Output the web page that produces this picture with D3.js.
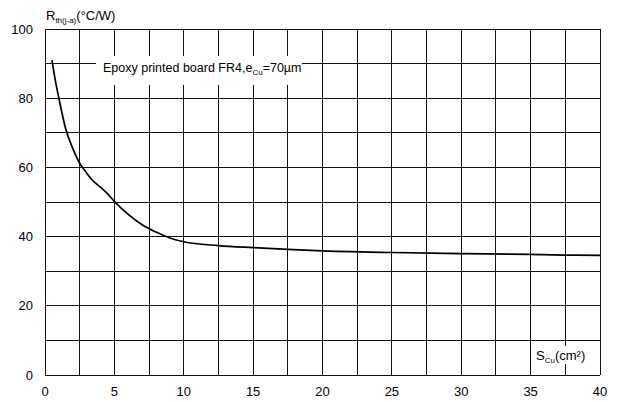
<!DOCTYPE html>
<html>
<head>
<meta charset="utf-8">
<script src="https://cdn.jsdelivr.net/npm/d3@7"></script>
<style>
  body { margin: 0; background: #fff; }
  text { font-family: "Liberation Sans", Arial, sans-serif; fill: #000; }
</style>
</head>
<body>
<div id="chart"></div>
<script>
// copper area (cm²) vs thermal resistance (°C/W)
const areaCu = [0.5, 0.75, 1, 1.5, 2, 2.5, 3, 3.3, 3.6, 4, 4.5, 5, 6, 7, 8, 9, 10, 12.5, 15, 17.5, 20, 25, 30, 35, 37.5, 40];
const rthJA  = [91, 85, 80, 71, 65.5, 61.2, 58.4, 56.8, 55.6, 54.3, 52.4, 50.2, 46.4, 43.4, 41.3, 39.6, 38.5, 37.4, 36.8, 36.3, 35.9, 35.4, 35.1, 34.85, 34.65, 34.6];

const xTicks = [0, 5, 10, 15, 20, 25, 30, 35, 40];
const yTicks = [0, 20, 40, 60, 80, 100];
const xGrid = d3.range(0, 40.01, 2.5);
const yGrid = d3.range(0, 100.01, 10);

const width = 618, height = 402;
const margin = {left: 45, right: 18, top: 29, bottom: 27};

const svg = d3.select("#chart").append("svg")
  .attr("width", width)
  .attr("height", height);

const x = d3.scaleLinear().domain([0, 40]).range([margin.left, width - margin.right]);
const y = d3.scaleLinear().domain([0, 100]).range([height - margin.bottom, margin.top]);

// grid
const grid = svg.append("g").attr("stroke", "#111").attr("stroke-width", 1).attr("shape-rendering", "crispEdges");
grid.selectAll(".vg").data(xGrid).join("line")
  .attr("x1", d => x(d)).attr("x2", d => x(d))
  .attr("y1", y(0)).attr("y2", y(100));
grid.selectAll(".hg").data(yGrid).join("line")
  .attr("x1", x(0)).attr("x2", x(40))
  .attr("y1", d => y(d)).attr("y2", d => y(d));

// tick labels
svg.selectAll(".ylab").data(yTicks).join("text")
  .attr("x", 33).attr("y", d => y(d)).attr("dy", "0.35em")
  .attr("text-anchor", "end").attr("font-size", 13)
  .text(d => d);
svg.selectAll(".xlab").data(xTicks).join("text")
  .attr("x", d => x(d)).attr("y", 391).attr("dy", "0.35em")
  .attr("text-anchor", "middle").attr("font-size", 13)
  .text(d => d);

// curve
const line = d3.line()
  .x((d, i) => x(areaCu[i]))
  .y(d => y(d))
  .curve(d3.curveMonotoneX);
svg.append("path")
  .datum(rthJA)
  .attr("fill", "none")
  .attr("stroke", "#000")
  .attr("stroke-width", 1.7)
  .attr("d", line);

// annotation box
svg.append("rect")
  .attr("x", 96).attr("y", 56).attr("width", 206).attr("height", 29)
  .attr("fill", "#fff");
const note = svg.append("text").attr("x", 103).attr("y", 72).attr("font-size", 12.5);
note.append("tspan").text("Epoxy printed board FR4,e");
note.append("tspan").attr("font-size", 8).attr("dy", 3).text("Cu");
note.append("tspan").attr("dy", -3).text("=70µm");

// axis titles
const yt = svg.append("text").attr("x", 46).attr("y", 20).attr("font-size", 13);
yt.append("tspan").text("R");
yt.append("tspan").attr("font-size", 8).attr("dy", 3).text("th(j-a)");
yt.append("tspan").attr("dy", -3).text("(°C/W)");

svg.append("rect")
  .attr("x", 534).attr("y", 346).attr("width", 54).attr("height", 18)
  .attr("fill", "#fff");
const xt = svg.append("text").attr("x", 536).attr("y", 360).attr("font-size", 13);
xt.append("tspan").text("S");
xt.append("tspan").attr("font-size", 8).attr("dy", 3).text("Cu");
xt.append("tspan").attr("dy", -3).text("(cm²)");
</script>
</body>
</html>
